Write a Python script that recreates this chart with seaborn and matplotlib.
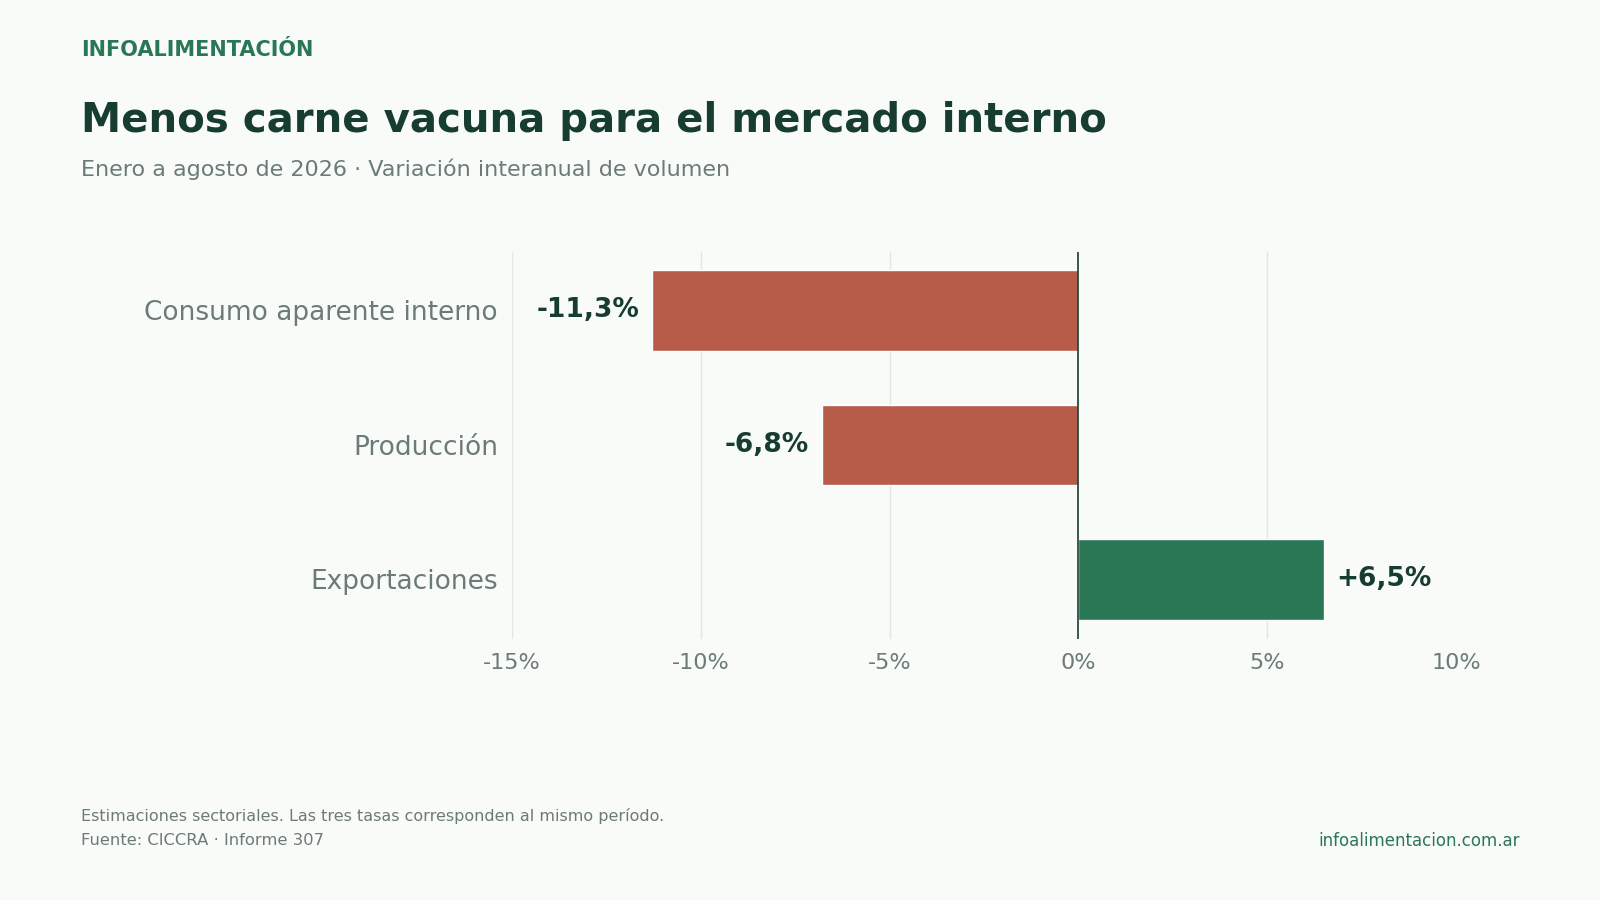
"""
Menos carne vacuna para el mercado interno - variacion interanual
"""

import numpy as np
import pandas as pd
import matplotlib.pyplot as plt
import seaborn as sns

# ---------- data ----------
categorias = ["Consumo aparente interno", "Producción", "Exportaciones"]
variacion = [-11.3, -6.8, 6.5]
x_ticks = [-15, -10, -5, 0, 5, 10]

# ---------- style ----------
BG = "#F9FBF9"
DARK = "#173D30"
GREEN = "#2A7755"
RED = "#B85C4A"
GRAY = "#6B7B75"
GRID = "#E3E6E3"

sns.set_style("white")
plt.rcParams['font.family'] = ['DejaVu Sans']


def fmt_pct(v):
    s = f"{v:+.1f}%".replace(".", ",")
    return s if v > 0 else s.replace("+", "")


def main():
    df = pd.DataFrame({"categoria": categorias, "variacion": variacion})
    df["signo"] = np.where(df["variacion"] < 0, "neg", "pos")

    fig = plt.figure(figsize=(16, 9), dpi=100, facecolor=BG)
    ax = fig.add_axes([0.320, 0.290, 0.590, 0.430], facecolor=BG)

    sns.barplot(data=df, y="categoria", x="variacion", hue="signo",
                palette={"neg": RED, "pos": GREEN}, orient="h",
                width=0.6, dodge=False, legend=False, ax=ax, saturation=1)

    ax.set_xlim(-15, 10)
    ax.set_ylim(2.445, -0.435)
    ax.set_xticks(x_ticks)
    ax.set_xticklabels([f"{t}%" for t in x_ticks], fontsize=16, color=GRAY)
    ax.tick_params(axis="y", labelsize=19, labelcolor=GRAY, length=0, pad=10)
    ax.tick_params(axis="x", length=0, pad=10)
    ax.set_xlabel("")
    ax.set_ylabel("")
    for s in ax.spines.values():
        s.set_visible(False)
    # vertical grid, without the line at the right edge
    for t in x_ticks[:-1]:
        if t != 0:
            ax.axvline(t, color=GRID, linewidth=1, zorder=0)
    ax.axvline(0, color=DARK, linewidth=1.2, zorder=5)

    for i, v in enumerate(variacion):
        off = 0.33 if v > 0 else -0.33
        ax.text(v + off, i, fmt_pct(v), va="center",
                ha="left" if v > 0 else "right",
                fontsize=19, fontweight="bold", color=DARK)

    # ---------- header / footer ----------
    fig.text(0.0505, 0.944, "INFOALIMENTACIÓN", fontsize=15, fontweight="bold",
             color=GREEN, va="center")
    fig.text(0.0505, 0.866, "Menos carne vacuna para el mercado interno",
             fontsize=29, fontweight="bold", color=DARK, va="center")
    fig.text(0.0505, 0.812, "Enero a agosto de 2026 · Variación interanual de volumen",
             fontsize=16, color=GRAY, va="center")
    fig.text(0.0505, 0.093, "Estimaciones sectoriales. Las tres tasas corresponden al mismo período.",
             fontsize=11.5, color=GRAY, va="center")
    fig.text(0.0505, 0.066, "Fuente: CICCRA · Informe 307",
             fontsize=11.8, color=GRAY, va="center")
    fig.text(0.950, 0.066, "infoalimentacion.com.ar",
             fontsize=12, color=GREEN, va="center", ha="right")

    plt.savefig("out.png", dpi=100, facecolor=BG)
    plt.close()


if __name__ == "__main__":
    main()
